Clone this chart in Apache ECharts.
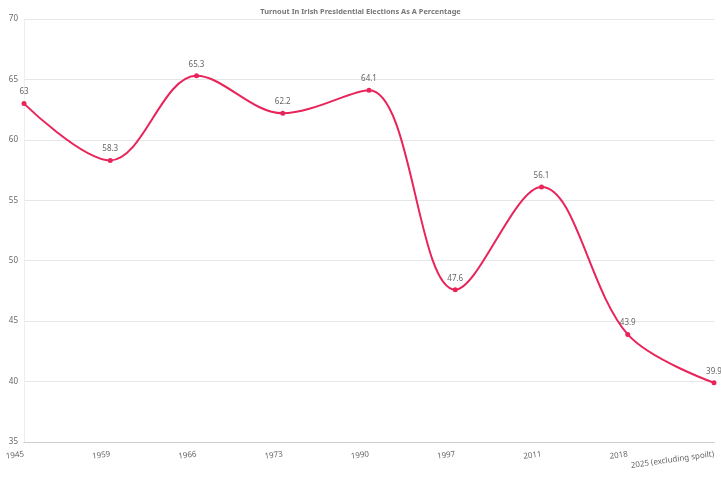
<!DOCTYPE html>
<html><head><meta charset="utf-8">
<script src="https://cdn.jsdelivr.net/npm/echarts@6/dist/echarts.min.js"></script>
<style>html,body{margin:0;padding:0;background:#fff}#c{width:721px;height:480px}</style>
</head><body><div id="c"></div>
<script>
var categories = ['1945','1959','1966','1973','1990','1997','2011','2018','2025 (excluding spoilt)'];
var turnout = [63, 58.3, 65.3, 62.2, 64.1, 47.6, 56.1, 43.9, 39.9];
var chart = echarts.init(document.getElementById('c'));
var font = 'Noto Sans';
chart.setOption({
  animation: false,
  title: {text: 'Turnout In Irish Presidential Elections As A Percentage', left: 'center', top: 3,
    textStyle: {fontFamily: font, fontSize: 7.4, fontWeight: 'bold', color: '#777'}},
  grid: {left: 24, right: 7, top: 19, bottom: 38, containLabel: false},
  xAxis: {type: 'category', data: categories, boundaryGap: false,
    axisLine: {lineStyle: {color: '#ccc'}}, axisTick: {show: false},
    axisLabel: {rotate: 8, fontFamily: font, fontSize: 8, color: '#666', margin: 12, interval: 0}},
  yAxis: {type: 'value', min: 35, max: 70, interval: 5,
    axisLine: {show: true, lineStyle: {color: '#eee'}}, axisTick: {show: false},
    axisLabel: {fontFamily: font, fontSize: 8, color: '#666', margin: 6},
    splitLine: {lineStyle: {color: '#e6e6e6'}}},
  series: [{type: 'line', data: turnout, smooth: 0.35, symbol: 'circle', symbolSize: 5,
    itemStyle: {color: '#e8245a'}, lineStyle: {color: '#e8245a', width: 2},
    label: {show: true, position: 'top', distance: 5, fontFamily: font, fontSize: 8, color: '#666'}}]
});
</script></body></html>
